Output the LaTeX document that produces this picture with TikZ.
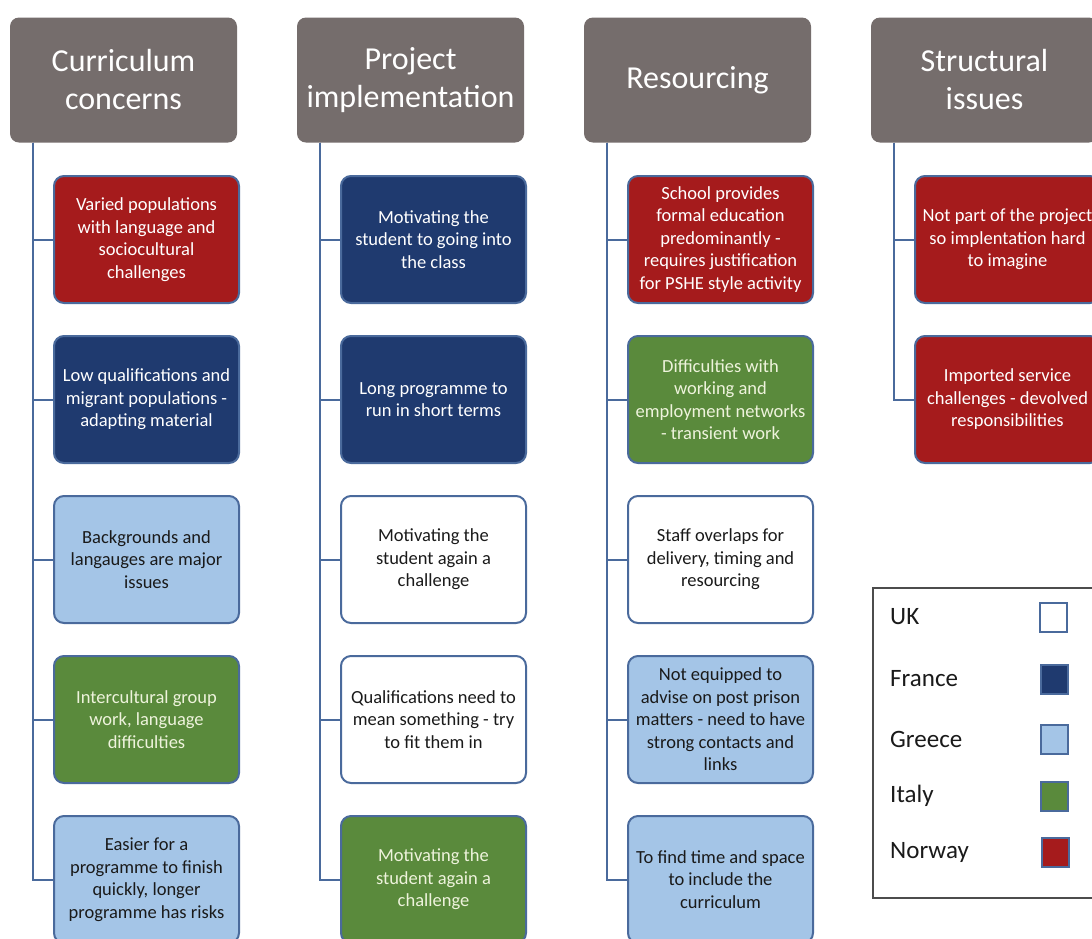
\documentclass[tikz,border=0pt]{standalone}
\usepackage{fontspec}
\setmainfont{Carlito}
\usetikzlibrary{calc}
\definecolor{hgray}{HTML}{756D6C}
\definecolor{nred}{HTML}{A51B1C}
\definecolor{fblue}{HTML}{1F3A6F}
\definecolor{glblue}{HTML}{A4C5E7}
\definecolor{igreen}{HTML}{5A8A3C}
\definecolor{bord}{HTML}{4A6A9C}
\definecolor{cream}{HTML}{EEF3DC}
\definecolor{dtext}{HTML}{1A1A1A}
\tikzset{
  hdr/.style={fill=hgray, rounded corners=9pt, minimum width=227pt, minimum height=125pt,
    text=white, align=center, inner sep=0pt, font=\fontsize{32}{38}\selectfont},
  item/.style={draw=bord, line width=2pt, rounded corners=10pt, minimum width=185pt, minimum height=127pt,
    align=center, inner sep=0pt, font=\fontsize{18.5}{22.5}\selectfont},
  uk/.style={item, fill=white, text=dtext},
  fr/.style={item, fill=fblue, text=white},
  gr/.style={item, fill=glblue, text=dtext},
  it/.style={item, fill=igreen, text=cream},
  no/.style={item, fill=nred, text=white},
  conn/.style={draw=bord, line width=2pt},
  sq/.style={draw=bord, line width=2pt, minimum width=27pt, minimum height=29pt, inner sep=0pt},
  lab/.style={anchor=west, inner sep=0pt, font=\fontsize{25}{30}\selectfont, text=dtext}
}
\begin{document}
\begin{tikzpicture}[x=1pt,y=-1pt]
\useasboundingbox (0,0) rectangle (1092,938);
\clip (0,0) rectangle (1092,938);
\fill[white] (0,0) rectangle (1092,938);
% headers
\node[hdr] (h1) at (123.5,80) {Curriculum\\concerns};
\node[hdr] (h2) at (410.5,80) {Project\\implementation};
\node[hdr] (h3) at (697.5,80) {Resourcing};
\node[hdr] (h4) at (984.5,80) {Structural\\issues};
\foreach \i in {1,2,3,4}{
  \coordinate (t\i) at ($(h\i.south west)+(23,0)$);
}
% column 1
\node[no] (b11) at (146.5,239.5) {Varied populations\\with language and\\sociocultural\\challenges};
\node[fr] (b12) at (146.5,399.5) {Low qualifications and\\migrant populations -\\adapting material};
\node[gr] (b13) at (146.5,559.5) {Backgrounds and\\langauges are major\\issues};
\node[it] (b14) at (146.5,719.5) {Intercultural group\\work, language\\difficulties};
\node[gr] (b15) at (146.5,879.5) {Easier for a\\programme to finish\\quickly, longer\\programme has risks};
% column 2
\node[fr] (b21) at (433.5,239.5) {Motivating the\\student to going into\\the class};
\node[fr] (b22) at (433.5,399.5) {Long programme to\\run in short terms};
\node[uk] (b23) at (433.5,559.5) {Motivating the\\student again a\\challenge};
\node[uk] (b24) at (433.5,719.5) {Qualifications need to\\mean something - try\\to fit them in};
\node[it] (b25) at (433.5,879.5) {Motivating the\\student again a\\challenge};
% column 3
\node[no] (b31) at (720.5,239.5) {School provides\\formal education\\predominantly -\\requires justification\\for PSHE style activity};
\node[it] (b32) at (720.5,399.5) {Difficulties with\\working and\\employment networks\\- transient work};
\node[uk] (b33) at (720.5,559.5) {Staff overlaps for\\delivery, timing and\\resourcing};
\node[gr] (b34) at (720.5,719.5) {Not equipped to\\advise on post prison\\matters - need to have\\strong contacts and\\links};
\node[gr] (b35) at (720.5,879.5) {To find time and space\\to include the\\curriculum};
% column 4
\node[no] (b41) at (1007.5,239.5) {Not part of the project\\so implentation hard\\to imagine};
\node[no] (b42) at (1007.5,399.5) {Imported service\\challenges - devolved\\responsibilities};
% connectors
\foreach \c in {1,2,3}{
  \foreach \r in {1,...,5}{
    \draw[conn] (t\c) |- (b\c\r.west);
  }
}
\foreach \r in {1,2}{
  \draw[conn] (t4) |- (b4\r.west);
}
% legend
\draw[draw=black!70, line width=1.3pt] (873,588) rectangle (1110,898);
\node[lab] (lUK) at (890,617) {UK};
\node[lab] (lFR) at (890,679) {France};
\node[lab] (lGR) at (890,739) {Greece};
\node[lab] (lIT) at (890,796) {Italy};
\node[lab] (lNO) at (890,852) {Norway};
\node[sq, fill=white] (sUK) at (1053.5,617.5) {};
\node[sq, fill=fblue] (sFR) at (1054,679) {};
\node[sq, fill=glblue] (sGR) at (1054,739) {};
\node[sq, fill=igreen] (sIT) at (1054,796) {};
\node[sq, fill=nred] (sNO) at (1055,852) {};
\end{tikzpicture}
\end{document}
